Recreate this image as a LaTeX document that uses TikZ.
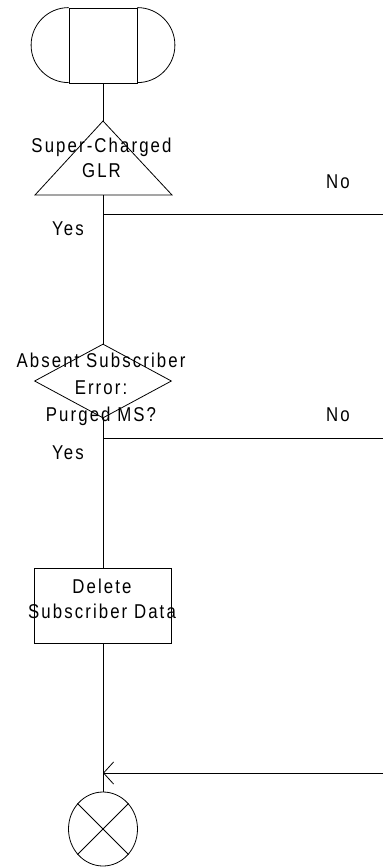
\documentclass[tikz,border=0pt]{standalone}
\usepackage{fontspec}
\setmainfont{Liberation Sans}[FakeStretch=0.84,LetterSpace=10.5]
\usetikzlibrary{arrows.meta}
\usetikzlibrary{shapes.geometric}
\usetikzlibrary{calc}

\tikzset{
  lbl/.style={font=\fontsize{20}{25}\selectfont, align=center, inner sep=0pt, anchor=base},
  blk/.style={draw, inner sep=0pt},
}

\begin{document}
\begin{tikzpicture}[x=1pt,y=1pt,line width=0.8pt]
      \useasboundingbox (0,0) rectangle (383,-867);

      \node[blk, minimum width=68pt, minimum height=75pt] (start) at (103,-45.5) {};
      \draw (start.north west) arc[start angle=90, end angle=270, radius=37.5pt];
      \draw (start.north east) arc[start angle=90, end angle=-90, radius=37.5pt];

      \coordinate(tri) at (103,-121);
      \coordinate(trileft) at (35,-195);
      \coordinate(triright) at (172,-195);
      \coordinate(tribase) at (103,-195);
      \draw (tri) -- (trileft) -- (triright) -- cycle;

      \node[blk, diamond, aspect=1.85, minimum width=137pt, minimum height=74pt] (purged) at (103,-381) {};
      \node[blk, minimum width=137pt, minimum height=75pt] (delete) at (103,-605.5) {};
      \node[blk, ellipse, minimum width=69pt, minimum height=74pt] (stop) at (103,-829) {};
      \draw (stop.45) -- (stop.225);
      \draw (stop.135) -- (stop.315);

      \node[lbl] (glrtext) at (101.5,-177) {Super-Charged\\GLR};
      \node[lbl] (purgedtext) at (101,-421) {Absent Subscriber\\[2pt]Error:\\[2pt]Purged MS?};
      \node[lbl] (deletetext) at (102,-618) {Delete\\Subscriber Data};

      \node[lbl] (no1) at (338,-188) {No};
      \node[lbl] (yes1) at (68,-235) {Yes};
      \node[lbl] (no2) at (338,-421) {No};
      \node[lbl] (yes2) at (68,-459) {Yes};

      \coordinate(j1) at (103,-214);
      \coordinate(e1) at (383,-214);
      \coordinate(j2) at (103,-438);
      \coordinate(e2) at (383,-438);
      \coordinate(j3) at (103,-773);
      \coordinate(e3) at (383,-773);

      \draw (start.south) -- (tri);
      \draw (tribase) -- (purged.north);
      \draw (j1) -- (e1);
      \draw (purged.south) -- (delete.north);
      \draw (j2) -- (e2);
      \draw (delete.south) -- (stop.north);
      \draw[-{Straight Barb[length=10pt,width=22pt]}] (e3) -- (j3);
\end{tikzpicture}
\end{document}
